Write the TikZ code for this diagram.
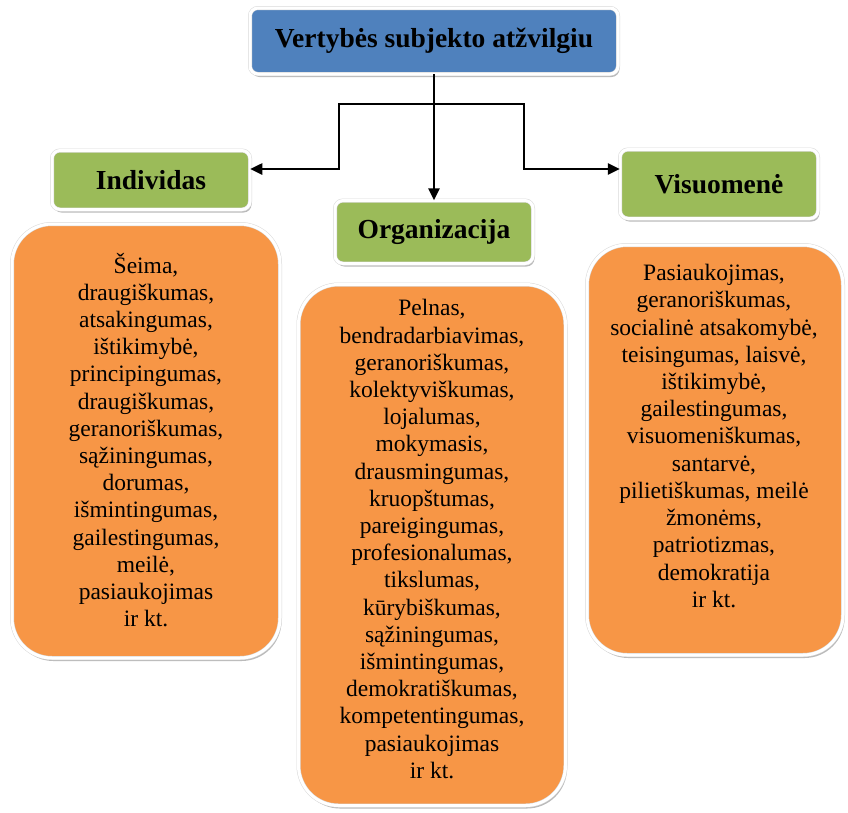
\documentclass[tikz,border=0pt]{standalone}
\usepackage{fontspec}
\setmainfont{Liberation Serif}
\usetikzlibrary{arrows.meta,shadows}
\definecolor{boxblue}{HTML}{4F81BD}
\definecolor{boxgreen}{HTML}{9BBB59}
\definecolor{boxorange}{HTML}{F79646}
\tikzset{
  glow box/.style={
    draw=black!15, double=white, double distance=3pt, line width=0.5pt,
    drop shadow={shadow xshift=1.5pt, shadow yshift=-3pt, opacity=0.45, fill=black!60}},
  head box/.style={glow box, fill=boxblue, rounded corners=8pt,
    minimum width=368pt, minimum height=66pt,
    font=\fontsize{27.5}{31}\selectfont\bfseries},
  group box/.style={glow box, fill=boxgreen, rounded corners=8pt,
    minimum width=198pt, minimum height=#1,
    font=\fontsize{27.5}{31}\selectfont\bfseries},
  group box/.default=60pt,
  value box/.style={glow box, fill=boxorange, rounded corners=40pt},
  value text/.style={align=center, inner sep=0pt,
    font=\fontsize{23.5}{27.2}\selectfont},
  link/.style={line width=2.5pt, line join=miter,
    -{Triangle[length=12pt,width=11pt]}},
}

\begin{document}
\begin{tikzpicture}[x=1pt,y=-1pt]
  \path[use as bounding box, fill=white] (0,0) rectangle (848,812);

  % Heading
  \node[head box] (vert) at (434,41) {Vertybės subjekto atžvilgiu};

  % Groups
  \node[group box=59pt] (ind) at (151,180) {Individas};
  \node[group box=63pt] (org) at (434,232) {Organizacija};
  \node[group box=69pt] (vis) at (719,184) {Visuomenė};

  % Value boxes
  \node[value box, minimum width=268pt, minimum height=434pt] (ind-box) at (146,441) {};
  \node[value box, minimum width=267pt, minimum height=521pt] (org-box) at (432,545) {};
  \node[value box, minimum width=256pt, minimum height=410pt] (vis-box) at (715,450) {};

  % Values
  \node[value text] (ind-txt) at (146,440) {Šeima,\\ draugiškumas,\\ atsakingumas,\\ ištikimybė,\\
    principingumas,\\ draugiškumas,\\ geranoriškumas,\\ sąžiningumas,\\ dorumas,\\
    išmintingumas,\\ gailestingumas,\\ meilė,\\ pasiaukojimas\\ ir kt.};
  \node[value text] (org-txt) at (432,539) {Pelnas,\\ bendradarbiavimas,\\ geranoriškumas,\\
    kolektyviškumas,\\ lojalumas,\\ mokymasis,\\ drausmingumas,\\ kruopštumas,\\
    pareigingumas,\\ profesionalumas,\\ tikslumas,\\ kūrybiškumas,\\ sąžiningumas,\\
    išmintingumas,\\ demokratiškumas,\\ kompetentingumas,\\ pasiaukojimas\\ ir kt.};
  \node[value text] (vis-txt) at (714,436) {Pasiaukojimas,\\ geranoriškumas,\\
    socialinė atsakomybė,\\ teisingumas, laisvė,\\ ištikimybė,\\ gailestingumas,\\
    visuomeniškumas,\\ santarvė,\\ pilietiškumas, meilė\\ žmonėms,\\ patriotizmas,\\
    demokratija\\ ir kt.};

  % Connectors
  \coordinate (bar-l) at (339,104);
  \coordinate (bar-r) at (524,104);
  \draw[link] (bar-r) -- (bar-l) |- ([yshift=11pt]ind.east);
  \draw[link] (bar-l) -- (bar-r) |- ([yshift=15pt]vis.west);
  \draw[link] (vert.south) -- (org.north);
\end{tikzpicture}
\end{document}
